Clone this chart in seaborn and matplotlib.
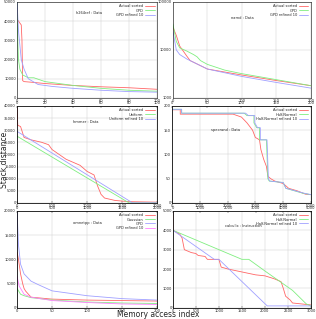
import pandas as pd
import seaborn as sns
import matplotlib.pyplot as plt
from matplotlib.ticker import FuncFormatter, NullLocator

# ---- panel 1 (top-left): x 0-100, y 0-50000
p1_red_x = [0, 2, 3, 3.5, 4, 5, 10, 20, 40, 60, 80, 100]
p1_red_y = [41000, 39000, 38000, 30000, 9000, 8500, 8200, 7500, 6500, 5800, 5300, 4500]
p1_green_x = [0, 0.5, 1, 2, 4, 8, 12, 20, 40, 60, 80, 100]
p1_green_y = [50000, 30000, 20000, 15000, 12000, 10500, 10500, 8500, 6500, 5000, 4000, 3500]
p1_blue_x = [0, 1, 3, 5, 8, 15, 25, 40, 60, 80, 100]
p1_blue_y = [50000, 35000, 20000, 15000, 10000, 7000, 6000, 5000, 4000, 3300, 3000]

# ---- panel 2 (top-right): x 0-200, log y
p2_red_x = [0, 5, 10, 20, 25, 50, 100, 150, 200]
p2_red_y = [30000, 20000, 12000, 7500, 6000, 4000, 3000, 2300, 1800]
p2_green_x = [0, 5, 10, 20, 30, 35, 40, 50, 75, 100, 150, 200]
p2_green_y = [35000, 15000, 11000, 9500, 8000, 7200, 6000, 5000, 3800, 3200, 2400, 1800]
p2_blue_x = [0, 5, 10, 20, 50, 100, 150, 200]
p2_blue_y = [25000, 10000, 8000, 6500, 4000, 2800, 2100, 1600]

# ---- panel 3 (middle-left): x 0-2000, y 0-40000
p3_red_x = [0, 10, 50, 100, 200, 350, 450, 500, 700, 900, 1000, 1100, 1150, 1200, 1250, 1400, 1600, 2000]
p3_red_y = [39000, 32000, 31500, 27000, 26000, 25000, 24000, 22000, 18000, 15500, 13000, 11500, 7000, 3500, 2000, 1000, 500, 300]
p3_green_x = [0, 1600, 2000]
p3_green_y = [27500, 0, 0]
p3_blue_x = [0, 1650, 2000]
p3_blue_y = [29500, 0, 0]

# ---- panel 4 (middle-right): x 0-5000, y 0-200
p4_red_x = [0, 300, 300, 2200, 2500, 2700, 2900, 3000, 3150, 3200, 3300, 3400, 3450, 3550, 3700, 4000, 4200, 4500, 4800, 5000]
p4_red_y = [192, 192, 183, 183, 177, 165, 150, 135, 130, 110, 90, 75, 55, 50, 45, 40, 30, 25, 18, 17]
p4_green_x = [0, 350, 350, 2600, 2700, 2950, 2950, 3050, 3150, 3150, 3400, 3450, 3500, 4000, 4100, 4700, 5000]
p4_green_y = [193, 193, 185, 185, 180, 180, 165, 155, 155, 130, 130, 50, 45, 42, 30, 20, 17]
p4_blue_x = [0, 350, 350, 2650, 2750, 2980, 2980, 3080, 3180, 3180, 3420, 3470, 3520, 4000, 4100, 4750, 5000]
p4_blue_y = [193, 193, 185, 185, 180, 180, 165, 155, 155, 130, 130, 50, 45, 42, 30, 20, 17]

# ---- panel 5 (bottom-left): x 0-200, y 0-20000
p5_red_x = [0, 2, 5, 8, 10, 12, 15, 20, 50, 100, 150, 200]
p5_red_y = [11500, 10000, 7000, 5000, 4000, 3500, 3000, 2200, 1800, 1600, 1500, 1400]
p5_green_x = [0, 5, 10, 20, 50, 100, 150, 200]
p5_green_y = [4000, 2800, 2500, 2100, 1600, 1200, 1000, 900]
p5_blue_x = [0, 2, 5, 10, 20, 30, 50, 75, 100, 150, 200]
p5_blue_y = [20000, 13000, 9000, 7000, 5500, 4800, 3500, 3000, 2500, 1900, 1600]
p5_mag_x = [0, 3, 10, 20, 50, 100, 150, 200]
p5_mag_y = [6500, 4500, 2800, 2200, 1500, 1100, 800, 700]

# ---- panel 6 (bottom-right): x 0-3000, y 0-5000
p6_red_x = [0, 0, 150, 200, 250, 400, 500, 550, 700, 750, 1000, 1050, 1200, 1400, 1600, 1800, 2000, 2200, 2350, 2400, 2450, 2550, 2600, 2800, 3000]
p6_red_y = [5000, 4000, 3800, 3600, 3000, 2850, 2800, 2700, 2650, 2500, 2500, 2100, 2000, 1900, 1800, 1700, 1650, 1500, 1350, 1000, 600, 400, 250, 200, 150]
p6_green_x = [0, 1500, 1650, 2000, 2300, 2600, 2900, 3000]
p6_green_y = [4000, 2500, 2500, 1900, 1400, 900, 200, 100]
p6_blue_x = [0, 900, 1000, 2050, 3000]
p6_blue_y = [4000, 2500, 2500, 100, 100]

RED, GREEN, BLUE, MAG = '#ff6666', '#80ee80', '#a0a0ff', '#ff80ff'

panels = [
    dict(pos=[0.054, 0.693, 0.443, 0.301], xlim=(0, 100), ylim=(0, 50000), xticks=range(0, 101, 20),
         yticks=range(0, 50001, 10000), top=None, log=False, label='h264ref : Data', lab_xy=(0.42, 0.87),
         series=[('Actual sorted', p1_red_x, p1_red_y, RED), ('GPD', p1_green_x, p1_green_y, GREEN),
                 ('GPD refined 10', p1_blue_x, p1_blue_y, BLUE)]),
    dict(pos=[0.547, 0.693, 0.437, 0.301], xlim=(0, 200), ylim=(1000, 100000), xticks=range(0, 201, 50),
         yticks=[1000, 10000, 100000], top=None, log=True, label='namd : Data', lab_xy=(0.42, 0.82),
         series=[('Actual sorted', p2_red_x, p2_red_y, RED), ('GPD', p2_green_x, p2_green_y, GREEN),
                 ('GPD refined 10', p2_blue_x, p2_blue_y, BLUE)]),
    dict(pos=[0.054, 0.364, 0.443, 0.304], xlim=(0, 2000), ylim=(0, 40000), xticks=range(0, 2001, 500),
         yticks=range(0, 40001, 5000), top=(100, 20), log=False, label='hmmer : Data', lab_xy=(0.40, 0.82),
         series=[('Actual sorted', p3_red_x, p3_red_y, RED), ('Uniform', p3_green_x, p3_green_y, GREEN),
                 ('Uniform refined 10', p3_blue_x, p3_blue_y, BLUE)]),
    dict(pos=[0.544, 0.364, 0.440, 0.304], xlim=(0, 5000), ylim=(0, 200), xticks=range(0, 5001, 1000),
         yticks=range(0, 201, 50), top=(200, 50), log=False, label='specrand : Data', lab_xy=(0.28, 0.74),
         series=[('Actual sorted', p4_red_x, p4_red_y, RED), ('Half-Normal', p4_green_x, p4_green_y, GREEN),
                 ('Half-Normal refined 10', p4_blue_x, p4_blue_y, BLUE)]),
    dict(pos=[0.054, 0.035, 0.443, 0.304], xlim=(0, 200), ylim=(0, 20000), xticks=range(0, 201, 50),
         yticks=range(0, 20001, 5000), top=(2000, 500), log=False, label='omnetpp : Data', lab_xy=(0.40, 0.86),
         series=[('Actual sorted', p5_red_x, p5_red_y, RED), ('Gaussian', p5_green_x, p5_green_y, GREEN),
                 ('GPD', p5_blue_x, p5_blue_y, BLUE), ('GPD refined 10', p5_mag_x, p5_mag_y, MAG)]),
    dict(pos=[0.547, 0.035, 0.437, 0.304], xlim=(0, 3000), ylim=(0, 5000), xticks=range(0, 3001, 500),
         yticks=range(0, 5001, 1000), top=(5000, 1000), log=False, label='calculix : Instruction', lab_xy=(0.38, 0.83),
         series=[('Actual sorted', p6_red_x, p6_red_y, RED), ('Half-Normal', p6_green_x, p6_green_y, GREEN),
                 ('Half-Normal refined 10', p6_blue_x, p6_blue_y, BLUE)]),
]

sns.set_style('whitegrid')
plt.rcParams['font.family'] = ['DejaVu Sans']
fig = plt.figure(figsize=(3.16, 3.19), dpi=100)
FS = 2.6

for p in panels:
    ax = fig.add_axes(p['pos'])
    rows = []
    for name, xs, ys, col in p['series']:
        for x, y in zip(xs, ys):
            rows.append(dict(series=name, x=x, y=y))
    df = pd.DataFrame(rows)
    pal = {name: col for name, _, _, col in p['series']}
    sns.lineplot(data=df, x='x', y='y', hue='series', palette=pal,
                 estimator=None, sort=False, linewidth=0.6, ax=ax, legend=True)
    if p['log']:
        ax.set_yscale('log')
    ax.set_xlim(*p['xlim'])
    ax.set_ylim(*p['ylim'])
    ax.set_xticks(list(p['xticks']))
    ax.set_yticks(list(p['yticks']))
    if p['log']:
        ax.yaxis.set_major_formatter(FuncFormatter(lambda v, _: f'{int(round(v))}'))
        ax.yaxis.set_minor_locator(NullLocator())
    ax.set_xlabel('')
    ax.set_ylabel('')
    ax.tick_params(labelsize=FS, length=1.2, width=0.3, pad=0.8, direction='in')
    ax.grid(True, color='#d0d0d0', linewidth=0.35)
    for s in ax.spines.values():
        s.set_color('black')
        s.set_linewidth(0.4)
    ax.text(p['lab_xy'][0], p['lab_xy'][1], p['label'], transform=ax.transAxes, fontsize=FS)
    leg = ax.legend(loc='upper right', fontsize=FS, frameon=False, handlelength=2.5,
                    borderpad=0.2, labelspacing=0.05, markerfirst=False, handletextpad=0.6)
    for h in leg.get_lines():
        h.set_linewidth(0.6)
    if p['top'] is not None:
        ax2 = ax.twiny()
        ax2.set_xlim(0, p['top'][0])
        ax2.set_xticks(list(range(0, p['top'][0] + 1, p['top'][1])))
        ax2.tick_params(labelsize=FS, length=1.2, width=0.3, pad=0.5, direction='in')
        ax2.grid(False)
        for s in ax2.spines.values():
            s.set_linewidth(0.4)
            s.set_color('black')

fig.text(0.015, 0.5, 'Stack distance', rotation=90, va='center', ha='center', fontsize=5.5)
fig.text(0.5, 0.0, 'Memory access index', ha='center', va='bottom', fontsize=5.5)

fig.savefig('out.png', dpi=100)
